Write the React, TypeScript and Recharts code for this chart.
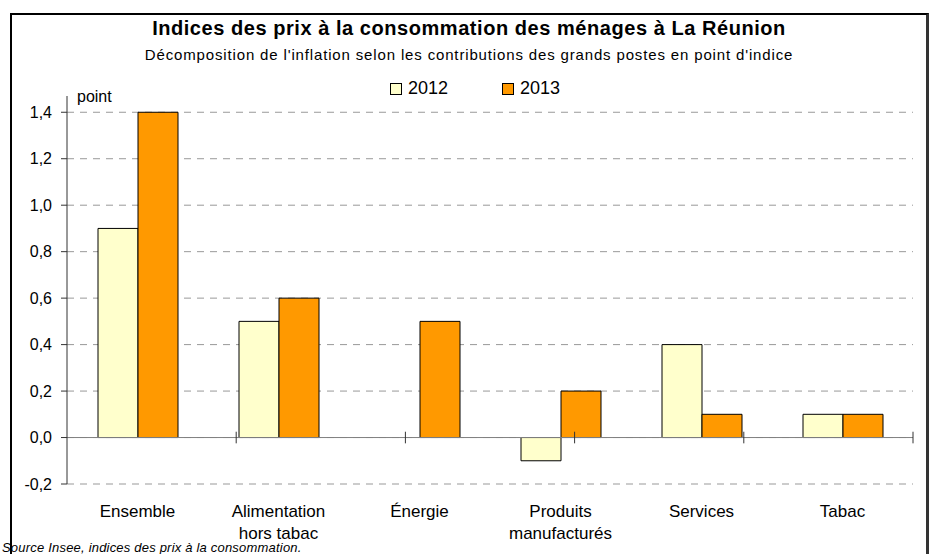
import {
    BarChart,
    Bar,
    XAxis,
    YAxis,
    CartesianGrid,
    ReferenceLine,
} from 'recharts'

const categories = [
    'Ensemble',
    'Alimentation\nhors tabac',
    'Énergie',
    'Produits\nmanufacturés',
    'Services',
    'Tabac',
]
const seriesNames = ['2012', '2013']
const values2012 = [0.9, 0.5, null, -0.1, 0.4, 0.1]
const values2013 = [1.4, 0.6, 0.5, 0.2, 0.1, 0.1]
const yTicks = [-0.2, 0, 0.2, 0.4, 0.6, 0.8, 1.0, 1.2, 1.4]
// category boundaries where Excel puts its tick marks on the zero line
const boundaries = [1, 2, 3, 4, 5, 6]

const COLORS = ['#FFFFCC', '#FF9900']
const FONT = 'Arial, "Liberation Sans", sans-serif'

const data = categories.map((name, i) => ({
    name,
    v2012: values2012[i],
    v2013: values2013[i],
}))

function CategoryTick({ x, y, payload }: any) {
    const lines = String(payload.value).split('\n')
    return (
        <text x={x} y={y} textAnchor="middle" fontSize={17} fill="#000" fontFamily={FONT}>
            {lines.map((line, i) => (
                <tspan key={i} x={x} dy={i === 0 ? 33 : 22}>
                    {line}
                </tspan>
            ))}
        </text>
    )
}

export default function App() {
    return (
        <div
            style={{
                position: 'absolute',
                left: 0,
                top: 0,
                width: 930,
                height: 554,
                overflow: 'hidden',
                background: '#fff',
                fontFamily: FONT,
            }}
        >
            <div
                style={{
                    position: 'absolute',
                    left: 10,
                    top: 13,
                    width: 914,
                    height: 600,
                    borderTop: '2px solid #000',
                    borderLeft: '2px solid #000',
                    borderRight: '3px solid #333',
                }}
            />
            <div
                style={{
                    position: 'absolute',
                    left: 11,
                    width: 916,
                    top: 17,
                    textAlign: 'center',
                    fontWeight: 'bold',
                    fontSize: 20,
                    letterSpacing: 0.55,
                    whiteSpace: 'nowrap',
                }}
            >
                Indices des prix à la consommation des ménages à La Réunion
            </div>
            <div
                style={{
                    position: 'absolute',
                    left: 11,
                    width: 916,
                    top: 46,
                    textAlign: 'center',
                    fontSize: 15,
                    letterSpacing: 0.85,
                    whiteSpace: 'nowrap',
                }}
            >
                Décomposition de l'inflation selon les contributions des grands postes en point d'indice
            </div>
            <div
                style={{
                    position: 'absolute',
                    top: 78,
                    left: 390,
                    display: 'flex',
                    alignItems: 'center',
                    fontSize: 18,
                }}
            >
                {seriesNames.map((s, i) => (
                    <div
                        key={s}
                        style={{ display: 'flex', alignItems: 'center', marginRight: i === 0 ? 54 : 0 }}
                    >
                        <span
                            style={{
                                display: 'inline-block',
                                width: 10,
                                height: 10,
                                border: '1px solid #000',
                                background: COLORS[i],
                                marginRight: 6,
                            }}
                        />
                        <span>{s}</span>
                    </div>
                ))}
            </div>
            <div style={{ position: 'absolute', left: 77, top: 88, fontSize: 16 }}>point</div>
            <div
                style={{
                    position: 'absolute',
                    left: 2,
                    top: 541,
                    fontSize: 13,
                    lineHeight: '13px',
                    fontStyle: 'italic',
                    letterSpacing: 0.2,
                    whiteSpace: 'nowrap',
                }}
            >
                Source Insee, indices des prix à la consommation.
            </div>
            <div style={{ position: 'absolute', left: 0, top: 0 }}>
                <BarChart
                    width={930}
                    height={554}
                    data={data}
                    margin={{ top: 96, right: 17, bottom: 0, left: 7 }}
                    barGap={0}
                    barSize={40}
                >
                    <CartesianGrid
                        vertical={false}
                        horizontalValues={yTicks}
                        stroke="#999"
                        strokeDasharray="7 6"
                    />
                    <XAxis
                        dataKey="name"
                        height={70}
                        axisLine={false}
                        tickLine={false}
                        tickSize={0}
                        tickMargin={0}
                        interval={0}
                        tick={<CategoryTick />}
                    />
                    <XAxis xAxisId="pos" type="number" domain={[0, 6]} hide />
                    <YAxis
                        width={60}
                        domain={[-0.2, 1.47]}
                        ticks={yTicks}
                        interval={0}
                        allowDataOverflow
                        stroke="#333"
                        tickSize={6}
                        tickMargin={9}
                        tick={{ fill: '#000', fontSize: 16, fontFamily: FONT }}
                        tickFormatter={(v: number) => v.toFixed(1).replace('.', ',')}
                    />
                    <Bar
                        dataKey="v2012"
                        name={seriesNames[0]}
                        fill={COLORS[0]}
                        stroke="#000"
                        strokeWidth={1}
                        isAnimationActive={false}
                    />
                    <Bar
                        dataKey="v2013"
                        name={seriesNames[1]}
                        fill={COLORS[1]}
                        stroke="#000"
                        strokeWidth={1}
                        isAnimationActive={false}
                    />
                    <ReferenceLine y={0} stroke="#808080" />
                    {boundaries.map((b) => (
                        <ReferenceLine
                            key={b}
                            xAxisId="pos"
                            segment={[
                                { x: b, y: -0.025 },
                                { x: b, y: 0.025 },
                            ]}
                            stroke="#333"
                            ifOverflow="visible"
                        />
                    ))}
                </BarChart>
            </div>
        </div>
    )
}
